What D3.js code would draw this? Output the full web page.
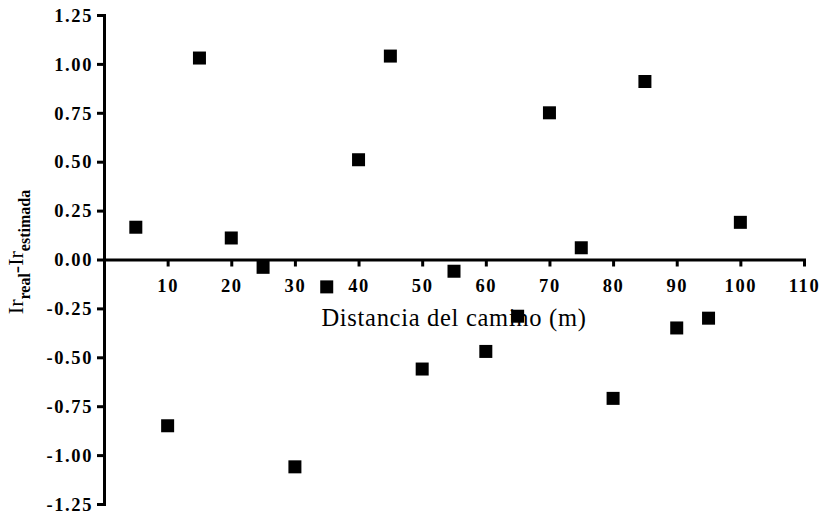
<!DOCTYPE html>
<html>
<head>
<meta charset="utf-8">
<script src="https://cdn.jsdelivr.net/npm/d3@7"></script>
<style>
  html, body { margin: 0; padding: 0; background: #fff; }
  svg { display: block; }
  text { font-family: "Liberation Serif", "Times New Roman", serif; fill: #000; }
</style>
</head>
<body>
<svg id="chart" width="823" height="514"></svg>
<script>
// ---- data ----
const distances = [5, 10, 15, 20, 25, 30, 35, 40, 45, 50, 55, 60, 65, 70, 75, 80, 85, 90, 95, 100];
const residuals = [0.165, -0.85, 1.03, 0.11, -0.04, -1.06, -0.14, 0.51, 1.04, -0.56, -0.06, -0.47, -0.29, 0.75, 0.06, -0.71, 0.91, -0.35, -0.30, 0.19];
const xTicks = [10, 20, 30, 40, 50, 60, 70, 80, 90, 100, 110];
const yTicks = [-1.25, -1.00, -0.75, -0.50, -0.25, 0.00, 0.25, 0.50, 0.75, 1.00, 1.25];
const xTitle = "Distancia del camino (m)";

// ---- layout ----
const svg = d3.select("#chart");
const x = d3.scaleLinear().domain([0, 110]).range([104, 804]);
const y = d3.scaleLinear().domain([-1.25, 1.25]).range([504, 15]);

const fmt = v => d3.format(".2f")(v).replace("\u2212", "-");

// y axis
const gy = svg.append("g")
  .attr("transform", `translate(${x(0)},0)`)
  .call(d3.axisLeft(y).tickValues(yTicks).tickFormat(fmt).tickSize(7).tickSizeOuter(0).tickPadding(4));

// x axis at y = 0
const gx = svg.append("g")
  .attr("transform", `translate(0,${y(0)})`)
  .call(d3.axisBottom(x).tickValues(xTicks).tickFormat(d3.format("d")).tickSize(7).tickSizeOuter(0).tickPadding(12));

[gx, gy].forEach(g => {
  g.select(".domain").attr("stroke", "#000").attr("stroke-width", 3).attr("stroke-linecap", "square");
  g.selectAll(".tick line").attr("stroke", "#000").attr("stroke-width", 3);
  g.selectAll(".tick text")
    .attr("font-family", "Liberation Serif, serif")
    .attr("font-weight", "bold")
    .attr("font-size", 18.5)
    .attr("letter-spacing", 1.6);
});
gy.selectAll(".tick text").attr("dy", "0.34em");

// points
const s = 13;
svg.append("g").selectAll("rect")
  .data(distances.map((d, i) => [d, residuals[i]]))
  .join("rect")
  .attr("x", d => x(d[0]) - s / 2)
  .attr("y", d => y(d[1]) - s / 2)
  .attr("width", s)
  .attr("height", s)
  .attr("fill", "#000");

// x title
svg.append("text")
  .attr("x", (x(0) + x(110)) / 2)
  .attr("y", 326)
  .attr("text-anchor", "middle")
  .attr("font-size", 24.5)
  .attr("letter-spacing", 0.7)
  .text(xTitle);

// y title with subscripts
const yt = svg.append("text")
  .attr("transform", "translate(23,252) rotate(-90)")
  .attr("text-anchor", "middle")
  .attr("font-size", 22);
yt.append("tspan").text("Ir");
yt.append("tspan").attr("font-size", 16).attr("font-weight", "bold").attr("dy", 7).text("real");
yt.append("tspan").attr("dy", -7).text("-Ir");
yt.append("tspan").attr("font-size", 16).attr("font-weight", "bold").attr("dy", 7).text("estimada");
</script>
</body>
</html>
